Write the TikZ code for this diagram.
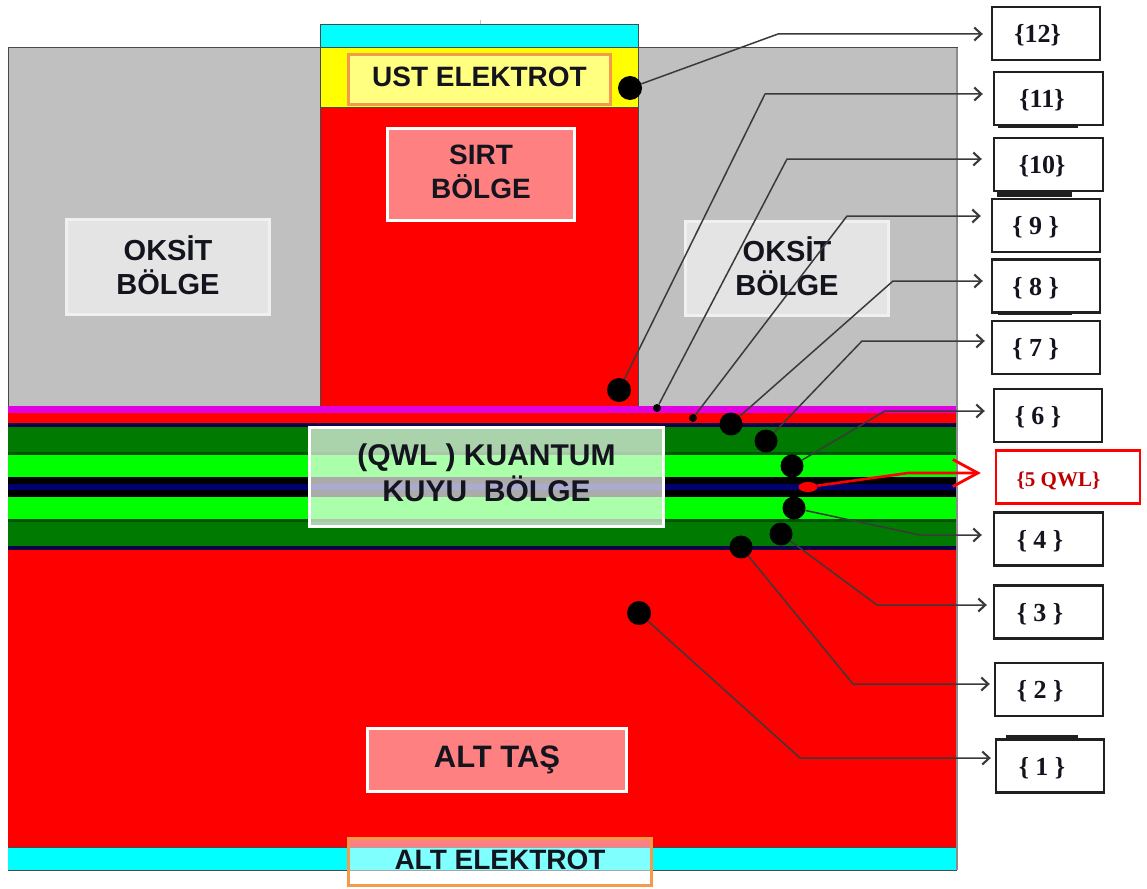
\documentclass[tikz,border=0pt]{standalone}
\usepackage{fontspec}
\setmainfont{Liberation Sans}
\newfontfamily\numfont{Liberation Serif}
\usetikzlibrary{arrows.meta,shapes.geometric}
\definecolor{grayreg}{HTML}{C0C0C0}
\definecolor{dgreen}{HTML}{007A00}
\definecolor{dkband}{HTML}{005200}
\definecolor{lime}{HTML}{00FF00}
\definecolor{navy}{HTML}{00006E}
\definecolor{darkband}{HTML}{10004A}
\definecolor{magent}{HTML}{E000E0}
\definecolor{orng}{HTML}{F59A4C}
\definecolor{edge}{HTML}{4A4A4A}
\definecolor{txt}{HTML}{14141E}
\definecolor{conn}{HTML}{3A3A3A}
\definecolor{cyanreg}{HTML}{00FFFF}
\definecolor{yelreg}{HTML}{FFFF00}
\definecolor{redreg}{HTML}{FF0000}
\definecolor{yelpale}{HTML}{FFFF80}
\definecolor{redpale}{HTML}{FF8080}
\definecolor{oxpale}{HTML}{E4E4E4}
\definecolor{oxedge}{HTML}{F0F0F0}
\definecolor{boxline}{HTML}{202020}
\newcommand{\tailsp}[1]{\rule[-#1]{0pt}{#1}}
\tikzset{
  layer/.style={fill=#1,draw=none},
  outlined/.style={fill=#1,draw=edge,line width=1pt},
  tag/.style={font=\bfseries\fontsize{28}{34}\selectfont,text=txt,align=center,inner sep=0pt,line width=3.5pt,text opacity=1},
  numbox/.style={draw=boxline,line width=2.4pt,fill=white,inner sep=0pt,minimum width=#1,minimum height=53pt,
    text height=20pt,text depth=1.6pt,
    font=\numfont\bfseries\fontsize{26}{28}\selectfont,text=txt},
  numbox/.default=108pt,
  dot/.style={circle,fill=black,draw=none,inner sep=0pt,minimum size=#1},
  dot/.default=23pt,
  link/.style={draw=conn,line width=1.5pt,-{Straight Barb[length=7pt,width=13pt,line width=2.1pt]},line join=round},
  qlink/.style={draw=redreg,line width=2.6pt,-{Straight Barb[length=25pt,width=27pt,line width=2.8pt]},line join=round}
}
\begin{document}
\begin{tikzpicture}[x=1pt,y=-1pt]
\useasboundingbox (0,0) rectangle (1147,888);
\fill[white] (0,0) rectangle (1147,888);
\draw[black!25,line width=.8pt] (480,20) -- (480,25);
% device stack
\path[outlined=grayreg] (8,48) rectangle (957,406);
\path[outlined=cyanreg] (320,25) rectangle (638,48);
\path[outlined=yelreg] (320,48) rectangle (638,108);
\path[outlined=redreg] (320,108) rectangle (638,406);
\path[layer=magent] (8,406) rectangle (957,413);
\path[layer=redreg] (8,413) rectangle (957,423);
\path[layer=darkband] (8,423) rectangle (957,427);
\path[layer=dgreen] (8,427) rectangle (957,452);
\path[layer=dkband] (8,452) rectangle (957,455);
\path[layer=lime] (8,455) rectangle (957,477);
\path[layer=black] (8,477) rectangle (957,484);
\path[layer=navy] (8,484) rectangle (957,490);
\path[layer=black] (8,490) rectangle (957,497);
\path[layer=lime] (8,497) rectangle (957,519);
\path[layer=dkband] (8,519) rectangle (957,522);
\path[layer=dgreen] (8,522) rectangle (957,546);
\path[layer=darkband] (8,546) rectangle (957,550);
\path[layer=redreg] (8,550) rectangle (957,847);
\path[layer=cyanreg] (8,847) rectangle (957,870);
\draw[edge,line width=.8pt] (8,847) -- (957,847) (8,870) -- (957,870);
\draw[black!45,line width=1.6pt] (957,48) -- (957,870);
% region labels
\node[tag,draw=orng,fill=yelpale,minimum width=262pt,minimum height=50pt] (ust) at (479.5,79.5) {UST ELEKTROT\tailsp{5pt}};
\node[tag,draw=white,fill=redpale,minimum width=187pt,minimum height=92pt] (sirt) at (481,174.5) {SIRT\\BÖLGE\tailsp{6pt}};
\node[tag,draw=oxedge,fill=oxpale,minimum width=203pt,minimum height=95pt,font=\bfseries\fontsize{29}{34}\selectfont] (oksl) at (168,267) {OKSİT\\BÖLGE\tailsp{4pt}};
\node[tag,draw=oxedge,fill=oxpale,minimum width=203pt,minimum height=94pt,font=\bfseries\fontsize{29}{34}\selectfont] (oksr) at (787,268.5) {OKSİT\\BÖLGE\tailsp{4pt}};
\node[tag,draw=white,fill=white,fill opacity=.67,draw opacity=1,minimum width=354pt,minimum height=99pt,font=\bfseries\fontsize{30}{36}\selectfont] (qwl) at (486.5,477) {(QWL ) KUANTUM\\KUYU\ \ BÖLGE\tailsp{8pt}};
\node[tag,draw=white,fill=redpale,minimum width=259pt,minimum height=63pt,font=\bfseries\fontsize{31}{36}\selectfont] (alttas) at (497,760) {ALT TAŞ};
\node[tag,draw=orng,fill=white,fill opacity=.5,draw opacity=1,minimum width=303pt,minimum height=47pt,yshift=-1pt] (altel) at (500,861) {ALT ELEKTROT\tailsp{4pt}};
% numbered boxes
\node[numbox=108pt] (b12) at (1046,33.5) {\hspace*{-17pt}\{12\}};
\node[numbox=109pt] (b11) at (1048.5,98.5) {\hspace*{-13pt}\{11\}};
\node[numbox=109pt] (b10) at (1048.5,164.5) {\hspace*{-13pt}\{10\}};
\node[numbox=108pt] (b9) at (1046,225.5) {\hspace*{-21pt}\{ 9 \}};
\node[numbox=108pt] (b8) at (1046,286) {\hspace*{-21pt}\{ 8 \}};
\node[numbox=108pt] (b7) at (1046,347.5) {\hspace*{-21pt}\{ 7 \}};
\node[numbox=108pt] (b6) at (1048,415.5) {\hspace*{-20pt}\{ 6 \}};
\node[numbox=144pt,draw=redreg,text=red!75!black,font=\numfont\bfseries\fontsize{21}{24}\selectfont] (b5) at (1068,477) {\hspace*{-19pt}\{5 QWL\}};
\node[numbox=109pt] (b4) at (1048.5,539) {\hspace*{-17pt}\{ 4 \}};
\node[numbox=109pt] (b3) at (1048.5,612) {\hspace*{-17pt}\{ 3 \}};
\node[numbox=108pt] (b2) at (1049,689.5) {\hspace*{-18pt}\{ 2 \}};
\node[numbox=108pt] (b1) at (1050,766) {\hspace*{-16pt}\{ 1 \}};
% stray edges of the boxes
\draw[boxline,line width=2pt] (998,126.5) -- (1078,126.5) (998,314) -- (1072,314);
\draw[boxline,line width=3pt] (1006,736) -- (1078,736);
\draw[boxline,line width=4.5pt] (997,194.5) -- (1072,194.5);
% probe dots
\node[dot=24pt] (d12) at (630,88) {};
\node[dot=24pt] (d11) at (619,390) {};
\node[dot=8pt] (d10) at (657,408) {};
\node[dot=8pt] (d9) at (693,418) {};
\node[dot] (d8) at (731,424) {};
\node[dot] (d7) at (766,441) {};
\node[dot] (d6) at (792,466) {};
\node[ellipse,fill=redreg,inner sep=0pt,minimum width=19pt,minimum height=10pt] (d5) at (808,487) {};
\node[dot] (d4) at (794,508) {};
\node[dot] (d3) at (781,534) {};
\node[dot] (d2) at (741,547) {};
\node[dot=24pt] (d1) at (639,613) {};
% elbows
\coordinate (k12) at (778,34);
\coordinate (k11) at (765,94);
\coordinate (k10) at (787,159);
\coordinate (k9) at (847,216);
\coordinate (k8) at (893,281);
\coordinate (k7) at (862,341);
\coordinate (k6) at (885,411);
\coordinate (k5) at (908,473);
\coordinate (k4) at (920,535);
\coordinate (k3) at (877,605);
\coordinate (k2) at (853,684);
\coordinate (k1) at (800,758);
% connectors
\draw[link,shorten >=8pt] (d12) -- (k12) -- (k12 -| b12.west);
\draw[link,shorten >=10pt] (d11) -- (k11) -- (k11 -| b11.west);
\draw[link,shorten >=11pt] (d10) -- (k10) -- (k10 -| b10.west);
\draw[link,shorten >=10pt] (d9) -- (k9) -- (k9 -| b9.west);
\draw[link,shorten >=8pt] (d8) -- (k8) -- (k8 -| b8.west);
\draw[link,shorten >=6pt] (d7) -- (k7) -- (k7 -| b7.west);
\draw[link,shorten >=8pt] (d6) -- (k6) -- (k6 -| b6.west);
\draw[qlink,shorten >=14pt] (d5) -- (k5) -- (k5 -| b5.west);
\draw[link,shorten >=11pt] (d4) -- (k4) -- (k4 -| b4.west);
\draw[link,shorten >=6pt] (d3) -- (k3) -- (k3 -| b3.west);
\draw[link,shorten >=4pt] (d2) -- (k2) -- (k2 -| b2.west);
\draw[link,shorten >=4pt] (d1) -- (k1) -- (k1 -| b1.west);
\end{tikzpicture}
\end{document}
